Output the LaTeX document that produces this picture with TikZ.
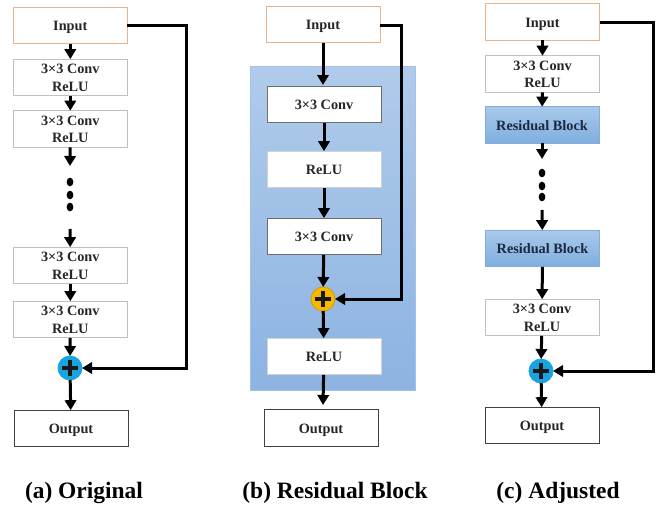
\documentclass[tikz,border=0pt]{standalone}
\usepackage{fontspec}
\setmainfont{Liberation Serif}
\usetikzlibrary{arrows.meta,shapes.geometric}
\definecolor{inedge}{HTML}{E8B48A}
\definecolor{graye}{HTML}{BFBFBF}
\definecolor{darke}{HTML}{6E6E6E}
\definecolor{panelt}{HTML}{B0CBEB}
\definecolor{panelb}{HTML}{8DB3E2}
\definecolor{rbt}{HTML}{A9C9EA}
\definecolor{rbb}{HTML}{7FAEDF}
\definecolor{addblue}{HTML}{18A4E0}
\definecolor{addgold}{HTML}{F7B900}
\definecolor{rbtext}{HTML}{1C2740}
\tikzset{
  x=0.75pt,y=-0.75pt,
  base/.style={rectangle,inner sep=0pt,outer sep=0pt,minimum width=85.5pt,minimum height=27.5pt,align=center,
    font=\fontsize{10.7}{13}\selectfont\bfseries,text=black!85,fill=white,line width=0.6pt,
    text height=10pt,text depth=2.3pt},
  inbox/.style={base,draw=inedge},
  convbox/.style={base,draw=graye,text height=23pt},
  darkbox/.style={base,draw=darke},
  plainbox/.style={base,draw=graye!70},
  outbox/.style={base,draw=black!75},
  rbbox/.style={base,draw=rbb,top color=rbt,bottom color=rbb,text=rbtext},
  flow/.style={line width=2.25pt,draw=black,-{Triangle[width=8.5pt,length=7.5pt]}},
  skip/.style={line width=2.25pt,draw=black,-{Triangle[width=8.5pt,length=7.5pt]}},
  dot/.style={ellipse,fill=black,inner sep=0pt,minimum width=5pt,minimum height=6.5pt},
  adder/.style={circle,inner sep=0pt,outer sep=0pt,minimum size=18pt,line width=0.6pt},
  bar/.style={line width=3.3pt,draw=black!90},
  caption/.style={font=\fontsize{17.6}{20}\selectfont\bfseries,inner sep=0pt},
}
\begin{document}
\begin{tikzpicture}
\useasboundingbox (0,0) rectangle (665,507);
% column a
\node[inbox] (a0) at (70.3,25.5) {Input};
\node[convbox] (a1) at (70.3,77.5) {3×3 Conv\\ReLU};
\node[convbox] (a2) at (70.3,129) {3×3 Conv\\ReLU};
\coordinate (a2e) at (70,166);
\node[dot] (ad1) at (70,182) {};
\node[dot] (ad2) at (70,195) {};
\node[dot] (ad3) at (70,207) {};
\coordinate (a3s) at (70,229);
\node[convbox] (a3) at (70.3,265.5) {3×3 Conv\\ReLU};
\node[convbox] (a4) at (70.3,319.5) {3×3 Conv\\ReLU};
\node[adder,fill=addblue,draw=addblue] (ap) at (70,368) {};
\draw[bar] (62,368) -- (78,368) (70,360) -- (70,376);
\node[outbox] (aout) at (71,428.5) {Output};
\coordinate (ac) at (186,25);
\coordinate (ad) at (186,368);
\draw[flow] (a0) -- (a1);
\draw[flow] (a1) -- (a2);
\draw[flow] (a2) -- (a2e);
\draw[flow] (a3s) -- (a3);
\draw[flow] (a3) -- (a4);
\draw[flow] (a4) -- (ap);
\draw[flow] (ap) -- (aout);
\draw[skip] (a0.east |- ac) -- (ac) -- (ad) -- (ap);
% column b
\node[rectangle,draw=panelb!80,top color=panelt,bottom color=panelb,minimum width=123.5pt,minimum height=243pt,inner sep=0pt,outer sep=0pt] (panel) at (332.5,228) {};
\node[inbox] (b0) at (323,24.5) {Input};
\node[darkbox] (b1) at (324,104.5) {3×3 Conv};
\node[plainbox] (b2) at (324,169.5) {ReLU};
\node[darkbox] (b3) at (324,236.5) {3×3 Conv};
\node[adder,fill=addgold,draw=addgold!85!black] (bp) at (323,299) {};
\draw[bar] (315,299) -- (331,299) (323,291) -- (323,307);
\node[plainbox] (b4) at (324,356.5) {ReLU};
\node[outbox] (bout) at (321,428) {Output};
\coordinate (bc) at (401,25);
\coordinate (bd) at (401,299);
\coordinate (b1t) at (323,85);
\coordinate (boutt) at (323,405);
\draw[flow] (b0) -- (b1t);
\draw[flow] (b1) -- (b2);
\draw[flow] (b2) -- (b3);
\draw[flow] (b3) -- (bp);
\draw[flow] (bp) -- (b4);
\draw[flow] (b4) -- (boutt);
\draw[skip] (b0.east |- bc) -- (bc) -- (bd) -- (bp);
% column c
\node[inbox] (c0) at (542.5,22) {Input};
\node[convbox] (c1) at (542.5,74) {3×3 Conv\\ReLU};
\node[rbbox] (c2) at (542,125) {Residual Block};
\coordinate (c2e) at (542,159);
\node[dot] (cd1) at (542,173) {};
\node[dot] (cd2) at (542,186) {};
\node[dot] (cd3) at (542,197) {};
\coordinate (c3s) at (542,210);
\node[rbbox] (c3) at (542.5,248.5) {Residual Block};
\node[convbox] (c4) at (542,317.5) {3×3 Conv\\ReLU};
\node[adder,fill=addblue,draw=addblue] (cp) at (541,371) {};
\draw[bar] (533,371) -- (549,371) (541,363) -- (541,379);
\node[outbox] (cout) at (542,425.5) {Output};
\coordinate (cc) at (653,22);
\coordinate (cd) at (653,371);
\draw[flow] (c0) -- (c1);
\draw[flow] (c1) -- (c2);
\draw[flow] (c2) -- (c2e);
\draw[flow] (c3s) -- (c3);
\draw[flow] (c3) -- (c4);
\draw[flow] (c4) -- (cp);
\draw[flow] (cp) -- (cout);
\draw[skip] (c0.east |- cc) -- (cc) -- (cd) -- (cp);
% captions
\node[caption] (ca) at (84,493) {(a) Original};
\node[caption] (cb) at (335,493) {(b) Residual Block};
\node[caption] (cdc) at (558,493) {(c) Adjusted};
\end{tikzpicture}
\end{document}
